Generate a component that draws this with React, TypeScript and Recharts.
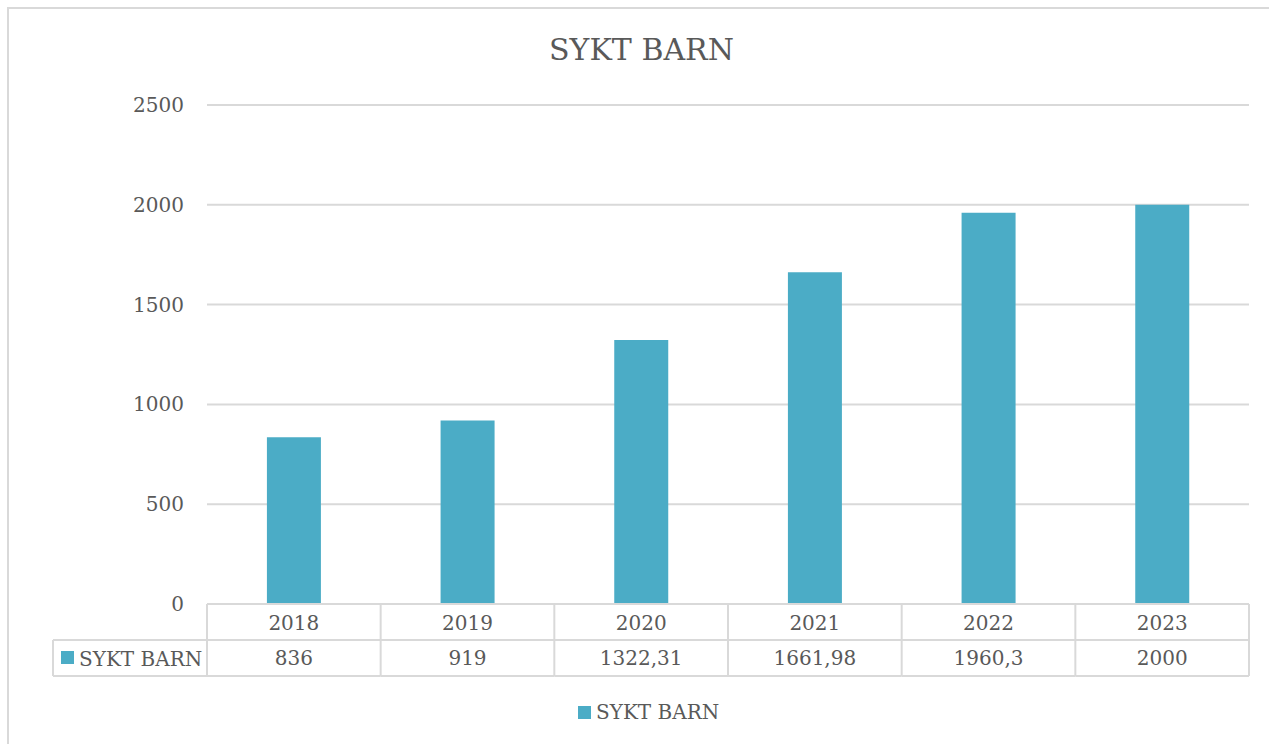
import React from 'react';
import { BarChart, Bar, XAxis, YAxis, CartesianGrid } from 'recharts';

const categories = ['2018', '2019', '2020', '2021', '2022', '2023'];
const values = [836, 919, 1322.31, 1661.98, 1960.3, 2000];
const valueLabels = ['836', '919', '1322,31', '1661,98', '1960,3', '2000'];
const yTicks = [0, 500, 1000, 1500, 2000, 2500];
const seriesName = 'SYKT BARN';
const title = 'SYKT BARN';

const data = categories.map((c, i) => ({ year: c, value: values[i], label: valueLabels[i] }));

const W = 1269;
const H = 744;
const PLOT_LEFT = 207;
const PLOT_RIGHT = 1249;
const PLOT_BOTTOM = 604;
const ROW_H = 36;
const HEADER_LEFT = 53;
const FONT = '"DejaVu Serif", serif';
const TEXT = '#595959';
const GRID = '#d9d9d9';
const BAR = '#4BACC6';

const TableTick = (props: any) => {
  const { payload } = props;
  const idx = payload.index;
  const cx = payload.coordinate;
  const bw = (PLOT_RIGHT - PLOT_LEFT) / categories.length;
  const x0 = cx - bw / 2;
  const x1 = cx + bw / 2;
  const y0 = PLOT_BOTTOM;
  const y1 = y0 + ROW_H;
  const y2 = y1 + ROW_H;
  return (
    <g>
      <line x1={x0} y1={y0} x2={x1} y2={y0} stroke={GRID} strokeWidth={2} />
      <line x1={x0} y1={y1} x2={x1} y2={y1} stroke={GRID} strokeWidth={2} />
      <line x1={x0} y1={y2} x2={x1} y2={y2} stroke={GRID} strokeWidth={2} />
      <line x1={x1} y1={y0} x2={x1} y2={y2} stroke={GRID} strokeWidth={2} />
      {idx === 0 && (
        <g>
          <line x1={x0} y1={y0} x2={x0} y2={y2} stroke={GRID} strokeWidth={2} />
          <line x1={HEADER_LEFT} y1={y1} x2={x0} y2={y1} stroke={GRID} strokeWidth={2} />
          <line x1={HEADER_LEFT} y1={y2} x2={x0} y2={y2} stroke={GRID} strokeWidth={2} />
          <line x1={HEADER_LEFT} y1={y1} x2={HEADER_LEFT} y2={y2} stroke={GRID} strokeWidth={2} />
          <rect x={61} y={651} width={13} height={13} fill={BAR} />
          <text x={79} y={y1 + ROW_H / 2 + 1} fill={TEXT} fontSize={20} fontFamily={FONT} dominantBaseline="central">
            {seriesName}
          </text>
        </g>
      )}
      <text x={cx} y={y0 + ROW_H / 2 + 1} fill={TEXT} fontSize={20} fontFamily={FONT} textAnchor="middle" dominantBaseline="central">
        {payload.value}
      </text>
      <text x={cx} y={y1 + ROW_H / 2} fill={TEXT} fontSize={20} fontFamily={FONT} textAnchor="middle" dominantBaseline="central">
        {valueLabels[idx]}
      </text>
    </g>
  );
};

const YTick = (props: any) => {
  const { y, payload } = props;
  return (
    <text x={184} y={y} fill={TEXT} fontSize={20} fontFamily={FONT} textAnchor="end" dominantBaseline="central">
      {payload.value}
    </text>
  );
};

export default function App() {
  return (
    <div style={{ position: 'absolute', left: 0, top: 0, width: W, height: H, background: '#fff', overflow: 'hidden' }}>
      <div style={{ position: 'absolute', left: 7, top: 7, width: W + 20, height: H + 20, border: `2px solid ${GRID}`, boxSizing: 'border-box' }} />
      <div style={{ position: 'absolute', left: 0, top: 30, width: W, textAlign: 'center', fontFamily: FONT, fontSize: 30, color: TEXT, lineHeight: '40px', paddingLeft: 7 }}>
        {title}
      </div>
      <BarChart width={W} height={H} data={data} margin={{ top: 105, right: W - PLOT_RIGHT, bottom: H - PLOT_BOTTOM - 72, left: 0 }} barCategoryGap="34.5%">
        <CartesianGrid vertical={false} stroke={GRID} strokeWidth={2} />
        <YAxis width={PLOT_LEFT} domain={[0, 2500]} ticks={yTicks} axisLine={false} tickLine={false} tick={<YTick />} interval={0} />
        <XAxis dataKey="year" height={72} axisLine={false} tickLine={false} tick={<TableTick />} interval={0} />
        <Bar dataKey="value" fill={BAR} isAnimationActive={false} />
      </BarChart>
      <div style={{ position: 'absolute', left: 578, top: 695, display: 'flex', alignItems: 'center', fontFamily: FONT, fontSize: 20, color: TEXT, lineHeight: '34px' }}>
        <span style={{ display: 'inline-block', width: 13, height: 13, background: BAR, marginRight: 5 }} />
        <span>{seriesName}</span>
      </div>
    </div>
  );
}
